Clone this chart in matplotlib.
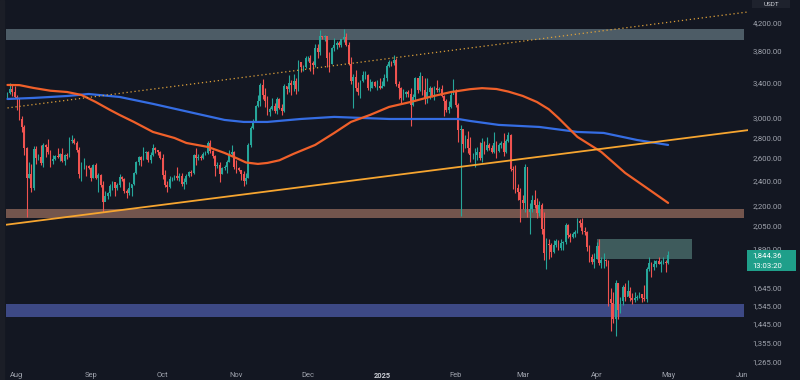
import numpy as np
import pandas as pd
import matplotlib
matplotlib.use('Agg')
import matplotlib.pyplot as plt
import matplotlib.dates as mdates
from matplotlib.patches import Rectangle
from matplotlib.ticker import FixedLocator, NullLocator, NullFormatter, FuncFormatter

plt.rcParams['font.family'] = ['Roboto', 'DejaVu Sans']

# ---------------- data ----------------
first_date = '2024-07-28'
last_date = '2025-05-01'
first_open = 3250

close = [
    3270, 3318, 3280, 3232,
    3203, 2990, 2905, 2690, 2420, 2460, 2340, 2682, 2600, 2610, 2555, 2725, 2705, 2660, 2570, 2590,
    2615, 2610, 2637, 2575, 2630, 2622, 2762, 2770, 2745, 2680, 2457, 2528, 2528, 2525, 2514,
    2425, 2538, 2423, 2450, 2368, 2225, 2272, 2297, 2359, 2388, 2340, 2361, 2435, 2418, 2316,
    2294, 2340, 2371, 2465, 2561, 2613, 2581, 2646, 2653, 2580, 2632, 2696, 2677, 2657, 2602,
    2447, 2364, 2349, 2414, 2414, 2441, 2422, 2440, 2370, 2386, 2439, 2476, 2469, 2629, 2605,
    2612, 2604, 2640, 2646, 2747, 2667, 2620, 2524, 2536, 2462, 2507, 2522, 2567, 2638, 2659, 2518,
    2512, 2491, 2459, 2398, 2421, 2721, 2895, 2962, 3128, 3183, 3372, 3245, 3187, 3058, 3091,
    3131, 3075, 3208, 3107, 3070, 3355, 3326, 3392, 3363, 3415, 3324, 3657, 3585, 3593, 3705,
    3708, 3645, 3620, 3835, 3785, 4003, 3995, 4005, 3710, 3627, 3835, 3881, 3907, 3873, 3959,
    3986, 3880, 3627, 3418, 3470, 3330, 3282, 3420, 3490, 3490, 3330, 3335, 3400, 3350, 3358, 3332,
    3353, 3451, 3605, 3656, 3636, 3685, 3380, 3327, 3220, 3266, 3282, 3267, 3136, 3226, 3450,
    3307, 3474, 3307, 3215, 3280, 3330, 3243, 3335, 3307, 3318, 3240, 3180, 3080, 3115, 3250, 3300,
    3140, 2870, 2880, 2730, 2785, 2690, 2625, 2630, 2630, 2660, 2600, 2740, 2680, 2725,
    2690, 2660, 2745, 2670, 2720, 2740, 2660, 2760, 2820, 2500, 2490, 2335, 2310, 2240,
    2220, 2520, 2150, 2170, 2240, 2200, 2140, 2200, 2020, 1860, 1920, 1910, 1865, 1910, 1940,
    1890, 1925, 1930, 2055, 1980, 1970, 1985, 2005, 2080, 2070, 2010, 2000, 1895, 1830, 1800, 1820,
    1905, 1795, 1815, 1815, 1805, 1580, 1555, 1470, 1670, 1520, 1570, 1645, 1590, 1625, 1585,
    1575, 1585, 1590, 1610, 1585, 1580, 1755, 1795, 1770, 1785, 1805, 1790, 1800, 1800, 1795,
    1844.36,
]
high = [
    3290, 3396, 3365, 3350,
    3245, 3220, 3015, 2925, 2700, 2560, 2550, 2715, 2710, 2640, 2720, 2740, 2735, 2785, 2680, 2630,
    2625, 2690, 2650, 2690, 2640, 2645, 2800, 2820, 2790, 2760, 2705, 2560, 2600, 2540, 2540,
    2520, 2550, 2552, 2470, 2460, 2400, 2315, 2310, 2375, 2400, 2390, 2378, 2460, 2440, 2420,
    2330, 2390, 2375, 2475, 2570, 2615, 2620, 2700, 2670, 2670, 2660, 2730, 2705, 2680, 2665,
    2640, 2495, 2400, 2440, 2430, 2450, 2520, 2465, 2465, 2420, 2460, 2480, 2490, 2640, 2690,
    2640, 2630, 2660, 2665, 2760, 2770, 2680, 2625, 2560, 2560, 2520, 2535, 2580, 2680, 2720, 2670,
    2580, 2520, 2495, 2480, 2465, 2740, 2910, 2990, 3140, 3250, 3390, 3445, 3330, 3240, 3120,
    3215, 3160, 3230, 3215, 3145, 3380, 3360, 3490, 3430, 3500, 3450, 3680, 3630, 3620, 3735,
    3730, 3740, 3670, 3890, 3900, 4090, 4010, 4020, 4010, 3790, 3850, 3970, 3930, 3930, 3965,
    4107, 4050, 3920, 3720, 3500, 3550, 3400, 3430, 3540, 3540, 3500, 3440, 3420, 3410, 3430, 3450,
    3410, 3500, 3630, 3675, 3665, 3745, 3700, 3410, 3340, 3320, 3300, 3310, 3330, 3260, 3470,
    3450, 3525, 3480, 3450, 3450, 3360, 3340, 3350, 3425, 3340, 3370, 3250, 3210, 3180, 3280, 3440,
    3320, 3160, 2920, 2870, 2825, 2860, 2800, 2650, 2690, 2700, 2750, 2790, 2760, 2800,
    2740, 2720, 2850, 2760, 2740, 2760, 2845, 2780, 2855, 2830, 2530, 2540, 2370, 2340,
    2280, 2550, 2520, 2220, 2280, 2320, 2260, 2230, 2220, 2150, 1960, 1950, 1925, 1945, 1950,
    1945, 1950, 1940, 2070, 2060, 1995, 2005, 2015, 2100, 2095, 2100, 2040, 2010, 1910, 1850, 1860,
    1930, 1955, 1830, 1860, 1820, 1815, 1640, 1620, 1690, 1670, 1590, 1660, 1670, 1690, 1650,
    1615, 1620, 1600, 1620, 1610, 1660, 1770, 1830, 1800, 1810, 1815, 1830, 1815, 1830, 1810,
    1870,
]
low = [
    3200, 3260, 3240, 3215,
    3085, 2970, 2850, 2630, 2111, 2420, 2310, 2325, 2550, 2580, 2540, 2520, 2610, 2640, 2520, 2550,
    2580, 2600, 2570, 2560, 2540, 2590, 2610, 2740, 2735, 2660, 2420, 2400, 2500, 2440, 2500,
    2400, 2425, 2415, 2310, 2350, 2150, 2240, 2250, 2270, 2325, 2275, 2325, 2350, 2395, 2300,
    2260, 2280, 2275, 2360, 2460, 2540, 2525, 2580, 2590, 2560, 2555, 2620, 2650, 2625, 2590,
    2415, 2350, 2310, 2340, 2395, 2405, 2410, 2400, 2355, 2330, 2375, 2430, 2440, 2460, 2540,
    2585, 2580, 2595, 2630, 2640, 2650, 2600, 2440, 2510, 2390, 2460, 2490, 2465, 2560, 2620, 2505,
    2465, 2480, 2410, 2357, 2375, 2420, 2705, 2880, 2950, 3120, 3130, 3210, 3110, 3030, 3020,
    3080, 3045, 3040, 3090, 3030, 3060, 3260, 3290, 3250, 3300, 3260, 3300, 3520, 3535, 3580,
    3660, 3535, 3500, 3590, 3700, 3740, 3960, 3940, 3590, 3520, 3630, 3800, 3830, 3850, 3850,
    3920, 3860, 3610, 3380, 3100, 3300, 3250, 3220, 3400, 3440, 3310, 3300, 3330, 3340, 3310, 3320,
    3330, 3350, 3420, 3590, 3600, 3620, 3350, 3210, 3160, 3190, 3230, 3230, 2910, 3130, 3180,
    3270, 3300, 3245, 3150, 3160, 3200, 3230, 3190, 3280, 3290, 3230, 3020, 3060, 3055, 3100, 3270,
    3120, 2750, 2120, 2660, 2690, 2650, 2560, 2590, 2520, 2580, 2585, 2560, 2640, 2670,
    2680, 2650, 2650, 2600, 2660, 2690, 2620, 2650, 2750, 2480, 2330, 2300, 2240, 2075,
    2170, 2150, 2110, 1990, 2150, 2180, 2100, 2120, 1990, 1810, 1755, 1820, 1830, 1860, 1900,
    1875, 1880, 1880, 1920, 1960, 1935, 1960, 1970, 1995, 2035, 1990, 1980, 1870, 1800, 1790, 1765,
    1820, 1780, 1760, 1760, 1775, 1540, 1410, 1450, 1385, 1470, 1505, 1545, 1570, 1595, 1570,
    1550, 1565, 1575, 1585, 1565, 1570, 1560, 1745, 1710, 1750, 1770, 1785, 1740, 1790, 1735,
    1790,
]

# moving averages (orange ~100D, blue ~200D)
ma_orange_dates = ['2024-07-28', '2024-08-02', '2024-08-08', '2024-08-15', '2024-08-22', '2024-08-28',
                   '2024-09-03', '2024-09-09', '2024-09-13', '2024-09-19', '2024-09-27', '2024-10-06',
                   '2024-10-11', '2024-10-20', '2024-10-27', '2024-11-01', '2024-11-05', '2024-11-10',
                   '2024-11-14', '2024-11-19', '2024-11-25', '2024-12-04', '2024-12-12', '2024-12-19',
                   '2024-12-27', '2025-01-04', '2025-01-13', '2025-01-21', '2025-01-30', '2025-02-07',
                   '2025-02-12', '2025-02-18', '2025-02-23', '2025-03-01', '2025-03-07', '2025-03-12',
                   '2025-03-16', '2025-03-24', '2025-04-03', '2025-04-13', '2025-04-22', '2025-05-01']
ma_orange = [3368, 3366, 3332, 3300, 3285, 3251, 3171, 3083, 3029, 2955, 2852, 2792,
             2743, 2705, 2648, 2600, 2560, 2547,
             2556, 2580, 2640, 2724, 2842, 2955,
             3029, 3116, 3171, 3228, 3285, 3318,
             3330, 3320, 3290, 3240, 3171, 3090,
             2997, 2802, 2657, 2467, 2340, 2219]
ma_blue_dates = ['2024-07-28', '2024-08-08', '2024-08-22', '2024-08-31', '2024-09-13', '2024-09-27',
                 '2024-10-14', '2024-10-27', '2024-11-04', '2024-11-14', '2024-11-28', '2024-12-12',
                 '2025-01-04', '2025-01-21', '2025-02-02', '2025-02-07', '2025-02-19', '2025-03-08',
                 '2025-03-24', '2025-04-04', '2025-04-18', '2025-05-01']
ma_blue = [3205, 3217, 3239, 3262, 3228, 3150, 3050, 2976, 2955, 2955, 2986, 3008, 2986, 2986, 2986,
           2965, 2924, 2903, 2852, 2842, 2772, 2724]

# drawings
zone_dates = ['2024-07-27', '2025-06-02']
zone_top = (3950, 4100)
zone_brown = (2100, 2175)
zone_blue = (1480, 1550)
box_dates = ['2025-04-01', '2025-05-11']
box_prices = (1818, 1953)
trend_dates = ['2024-07-27', '2025-06-04']
trend_prices = [2053, 2872]
channel_dates = ['2024-07-28', '2025-06-04']
channel_prices = [3105, 4363]

price_ticks = [4200, 3800, 3400, 3000, 2800, 2600, 2400, 2200, 2050, 1890, 1645, 1545, 1445, 1355, 1265]
month_ticks = ['2024-08-01', '2024-09-01', '2024-10-01', '2024-11-01', '2024-12-01', '2025-01-01',
               '2025-02-01', '2025-03-01', '2025-04-01', '2025-05-01', '2025-06-01']
month_labels = ['Aug', 'Sep', 'Oct', 'Nov', 'Dec', '2025', 'Feb', 'Mar', 'Apr', 'May', 'Jun']
last_price_text = '1,844.36'
countdown_text = '13:03:20'
view_dates = ['2024-07-27 09:00', '2025-06-03 12:00']
view_prices = (1246, 4549)

# ---------------- style ----------------
BG = '#131722'
UP = '#26a69a'
DOWN = '#ef5350'
TXT = '#a0a4ae'

W, H = 800, 380
fig = plt.figure(figsize=(8, 3.8), dpi=100, facecolor=BG)
ax_l, ax_r, ax_top, ax_bot = 6, 748, 0, 366
ax = fig.add_axes([ax_l / W, (H - ax_bot) / H, (ax_r - ax_l) / W, (ax_bot - ax_top) / H])
ax.set_facecolor(BG)
fig.patches.append(Rectangle((0, 0), 4 / W, 1, transform=fig.transFigure, color='#1b1e27', zorder=0))

dates = pd.date_range(first_date, last_date, freq='D')
x = mdates.date2num(dates)
c = np.array(close, float)
h = np.array(high, float)
l = np.array(low, float)
o = np.concatenate([[first_open], c[:-1]])
cols = np.where(c >= o, UP, DOWN)

ax.set_yscale('log')

# zones
z0, z1 = mdates.date2num(pd.to_datetime(zone_dates))
for (lo, hi), col in [(zone_top, '#4d5c66'), (zone_brown, '#73554d'), (zone_blue, '#3d4985')]:
    ax.add_patch(Rectangle((z0, lo), z1 - z0, hi - lo, facecolor=col, edgecolor='none', zorder=1))
b0, b1 = mdates.date2num(pd.to_datetime(box_dates))
ax.add_patch(Rectangle((b0, box_prices[0]), b1 - b0, box_prices[1] - box_prices[0],
                       facecolor='#3e5b5c', edgecolor='none', zorder=1))

# candles
ax.vlines(x, l, h, colors=cols, linewidth=0.8, zorder=3)
ax.bar(x, np.abs(c - o), bottom=np.minimum(o, c), width=0.74, color=cols, linewidth=0, zorder=3)

# moving averages
ax.plot(mdates.date2num(pd.to_datetime(ma_blue_dates)), ma_blue, color='#356de3', lw=1.6, zorder=4,
        solid_capstyle='round', solid_joinstyle='round')
ax.plot(mdates.date2num(pd.to_datetime(ma_orange_dates)), ma_orange, color='#f0602a', lw=1.6, zorder=4,
        solid_capstyle='round', solid_joinstyle='round')

# trend lines
ax.plot(mdates.date2num(pd.to_datetime(trend_dates)), trend_prices, color='#f6a530', lw=1.3, zorder=5)
ax.plot(mdates.date2num(pd.to_datetime(channel_dates)), channel_prices, color='#e0a23a', lw=0.9,
        linestyle=(0, (1, 2.2)), zorder=5)

# axes
xv = mdates.date2num(pd.to_datetime(view_dates))
ax.set_xlim(xv[0], xv[1])
ax.set_ylim(*view_prices)
for s in ax.spines.values():
    s.set_visible(False)
ax.yaxis.tick_right()
ax.yaxis.set_major_locator(FixedLocator(price_ticks))
ax.yaxis.set_minor_locator(NullLocator())
ax.yaxis.set_minor_formatter(NullFormatter())
ax.yaxis.set_major_formatter(FuncFormatter(lambda v, p: f'{v:,.2f}'))
ax.tick_params(axis='y', length=0, pad=3.2, labelsize=5.6, labelcolor=TXT)
ax.set_xticks(mdates.date2num(pd.to_datetime(month_ticks)))
ax.set_xticklabels(month_labels)
ax.tick_params(axis='x', length=0, pad=4.0, labelsize=5.4, labelcolor=TXT)
for t in ax.get_xticklabels():
    if t.get_text() == '2025':
        t.set_fontweight('bold')
        t.set_color('#c9ccd3')

# last price label
ly0, ly1 = np.log(view_prices[0]), np.log(view_prices[1])
frac = (np.log(c[-1]) - ly0) / (ly1 - ly0)
yfig = ((H - ax_bot) + frac * (ax_bot - ax_top)) / H
fig.patches.append(Rectangle((747 / W, yfig - 16 / H), 49 / W, 21 / H, transform=fig.transFigure,
                             facecolor='#1f9f8a', edgecolor='none', zorder=2))
fig.text(752 / W, yfig, last_price_text, color='white', fontsize=5.6, va='center', ha='left', zorder=4)
fig.text(752 / W, yfig - 11 / H, countdown_text, color='white', fontsize=5.6, va='center', ha='left', zorder=4)

# currency label at top of price scale
fig.patches.append(Rectangle((752 / W, 1 - 8 / H), 38 / W, 8 / H, transform=fig.transFigure,
                             facecolor='#1e222d', edgecolor='none', zorder=2))
fig.text(771 / W, 1 - 4 / H, 'USDT', color='#c9ccd3', fontsize=4.6, va='center', ha='center', zorder=4)

fig.savefig('out.png', dpi=100, facecolor=BG)
